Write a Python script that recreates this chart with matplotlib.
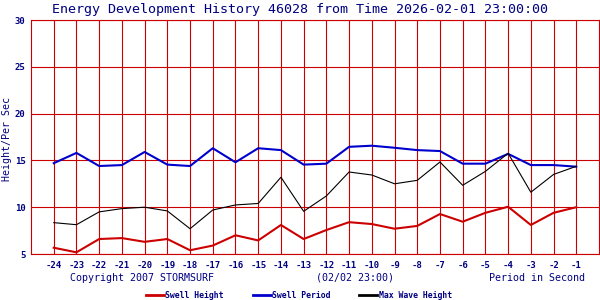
import numpy as np
import matplotlib.pyplot as plt

# hours before the reference time
hours = np.arange(-24, 0)

# values
swell_height = [5.67, 5.18, 6.6, 6.7, 6.3, 6.6, 5.4, 5.9, 7.0, 6.45, 8.1, 6.6,
                7.56, 8.4, 8.2, 7.7, 8.0, 9.27, 8.45, 9.4, 10.05, 8.1, 9.4, 10.0]
swell_period = [14.7, 15.8, 14.4, 14.5, 15.9, 14.55, 14.4, 16.3, 14.8, 16.3, 16.1, 14.55,
                14.65, 16.45, 16.57, 16.35, 16.1, 16.0, 14.65, 14.65, 15.7, 14.5, 14.5, 14.33]
max_wave = [8.35, 8.13, 9.5, 9.85, 10.0, 9.6, 7.7, 9.7, 10.24, 10.4, 13.2, 9.56,
            11.2, 13.76, 13.44, 12.5, 12.87, 14.83, 12.34, 13.83, 15.76, 11.6, 13.5, 14.37]

navy = '#000080'
grid_red = '#cc0000'
mono = 'DejaVu Sans Mono'

fig = plt.figure(figsize=(6, 3), dpi=100)
ax = fig.add_axes([31 / 600, 1 - 254 / 300, 568 / 600, 234 / 300])

ax.plot(hours, swell_height, color='#cc0000', lw=1.5, label='Swell Height')
ax.plot(hours, swell_period, color='#0000cc', lw=1.5, label='Swell Period')
ax.plot(hours, max_wave, color='black', lw=0.8, label='Max Wave Height')

ax.set_xlim(-25, 0)
ax.set_ylim(5, 30)
ax.set_xticks(hours)
ax.set_xticklabels([str(h) for h in hours])
ax.set_yticks(range(5, 31, 5))
ax.grid(True, color=grid_red, lw=0.8)
ax.set_axisbelow(True)
for s in ax.spines.values():
    s.set_color(grid_red)
    s.set_linewidth(0.8)
ax.tick_params(length=0, colors=navy, labelsize=6.5)
ax.tick_params(axis='x', pad=5)
ax.tick_params(axis='y', pad=4)
for lab in ax.get_xticklabels() + ax.get_yticklabels():
    lab.set_family(mono)
    lab.set_fontweight('bold')

# y label placed by hand so it stays inside the figure
fig.text(7 / 600, 1 - 139 / 300, 'Height/Per Sec', rotation=90,
         ha='center', va='center', family=mono, fontsize=7.2, color=navy)

fig.text(0.5, 1 - 9 / 300, 'Energy Development History 46028 from Time 2026-02-01 23:00:00',
         ha='center', va='center', family=mono, fontsize=9.6, color=navy)
fig.text(70 / 600, 1 - 278 / 300, 'Copyright 2007 STORMSURF',
         ha='left', va='center', family=mono, fontsize=7.2, color=navy)
fig.text(316 / 600, 1 - 278 / 300, '(02/02 23:00)',
         ha='left', va='center', family=mono, fontsize=7.2, color=navy)
fig.text(585 / 600, 1 - 278 / 300, 'Period in Second',
         ha='right', va='center', family=mono, fontsize=7.2, color=navy)

leg = fig.legend(loc='center', bbox_to_anchor=(299 / 600, 1 - 295 / 300), ncol=3,
                 frameon=False, handlelength=2.2, handletextpad=0.2,
                 columnspacing=3.5, prop={'family': mono, 'size': 5.9, 'weight': 'bold'})
for h in leg.legend_handles:
    h.set_linewidth(2)
for t in leg.get_texts():
    t.set_color(navy)

fig.savefig('out.png', dpi=100)
